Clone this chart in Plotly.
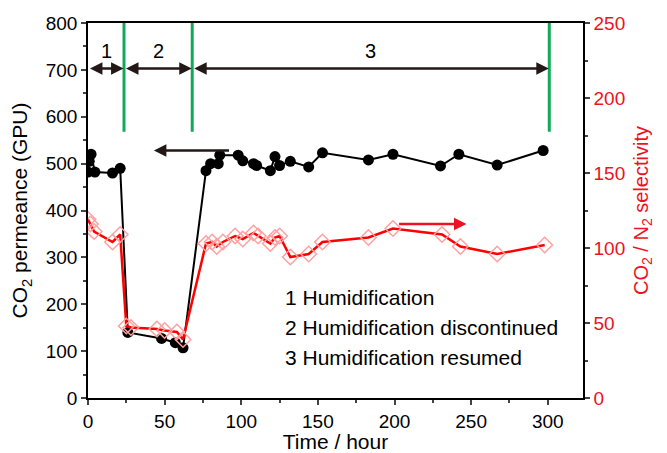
import plotly.graph_objects as go

# Data
perm_time = [0, 0.8, 2, 4.5, 16, 21, 26, 48, 57, 62, 77, 80, 85, 86, 98, 101, 108, 110,
             119, 122, 125, 132, 144, 153, 183, 199, 230, 242, 267, 297]
perm_vals = [482, 505, 520, 482, 480, 490, 140, 127, 118, 107, 485, 500, 500, 518, 518, 506,
             500, 496, 485, 515, 496, 505, 493, 523, 508, 520, 495, 520, 497, 528]

sel_time = [0, 1.5, 4, 16, 21, 25, 28, 45, 50, 58, 62, 77, 81, 84, 88, 96, 101, 108, 111,
            119, 122, 125, 132, 144, 153, 183, 199, 231, 243, 267, 298]
sel_vals = [119, 116, 111, 104, 109, 48, 47, 46, 45, 44, 39, 103, 104, 101, 104, 108, 106,
            110, 108, 103, 107, 108, 94, 96, 104, 107, 113, 109, 101, 96, 102]

phase_bounds = [0, 23.5, 68, 301]
phase_labels = ["1", "2", "3"]
legend_lines = ["1 Humidification", "2 Humidification discontinued", "3 Humidification resumed"]

FONT = "Liberation Sans, Arial, sans-serif"

fig = go.Figure()
fig.add_trace(go.Scatter(
    x=perm_time, y=perm_vals, mode="lines+markers",
    line=dict(color="black", width=2),
    marker=dict(symbol="circle", size=11, color="black"),
    yaxis="y", showlegend=False))
fig.add_trace(go.Scatter(
    x=sel_time, y=sel_vals, mode="lines+markers",
    line=dict(color="#ff0000", width=2.5),
    marker=dict(symbol="diamond-open", size=12, color="#ffa0a0", line=dict(width=1.5)),
    yaxis="y2", showlegend=False))

shapes = []
for b in phase_bounds[1:]:
    shapes.append(dict(type="line", xref="x", yref="y", x0=b, x1=b, y0=568, y1=800,
                       line=dict(color="#12a85a", width=3)))

annotations = []
for i in range(3):
    x0, x1 = phase_bounds[i], phase_bounds[i + 1]
    annotations.append(dict(x=x1 - 0.3, y=703, ax=x0 + 0.3, ay=703, xref="x", yref="y",
                            axref="x", ayref="y", text="", showarrow=True,
                            arrowhead=2, arrowsize=1, arrowwidth=2.5, arrowside="end+start",
                            arrowcolor="#231815"))
    annotations.append(dict(x=(x0 + x1) / 2, y=740, xref="x", yref="y", text=phase_labels[i],
                            showarrow=False, font=dict(size=20, color="black", family=FONT)))

# direction arrows
annotations.append(dict(x=43, y=528, ax=93, ay=528, xref="x", yref="y", axref="x", ayref="y",
                        text="", showarrow=True, arrowhead=2, arrowsize=1, arrowwidth=2.5,
                        arrowcolor="#231815"))
annotations.append(dict(x=247, y=371, ax=202, ay=371, xref="x", yref="y", axref="x", ayref="y",
                        text="", showarrow=True, arrowhead=2, arrowsize=1, arrowwidth=2.5,
                        arrowcolor="#ee1122"))

for i, t in enumerate(legend_lines):
    annotations.append(dict(x=127, y=215 - i * 64, xref="x", yref="y", text=t, xanchor="left",
                            showarrow=False, font=dict(size=21, color="black", family=FONT)))

# page has an 8px body margin: figure is sized/margined to compensate
fig.update_layout(
    width=659, height=445,
    margin=dict(l=80, r=84, t=15, b=55),
    plot_bgcolor="white", paper_bgcolor="white",
    font=dict(family=FONT, size=19, color="black"),
    shapes=shapes, annotations=annotations,
    xaxis=dict(range=[0, 323], tickvals=[0, 50, 100, 150, 200, 250, 300], automargin=False,
               ticks="outside", ticklen=5, tickwidth=1.5, showline=True, linecolor="black",
               linewidth=1.5, mirror=True, showgrid=False, zeroline=False,
               minor=dict(dtick=25, ticks="outside", ticklen=3),
               title=dict(text="Time / hour", font=dict(size=21), standoff=3)),
    yaxis=dict(range=[0, 800], dtick=100, ticks="outside", ticklen=5, tickwidth=1.5,
               automargin=False,
               showline=True, linecolor="black", linewidth=1.5, showgrid=False, zeroline=False,
               minor=dict(dtick=50, ticks="outside", ticklen=3),
               title=dict(text="CO<sub>2</sub> permeance (GPU)", font=dict(size=21), standoff=12)),
    yaxis2=dict(range=[0, 250], dtick=50, overlaying="y", side="right", ticks="outside",
                automargin=False,
                ticklen=5, tickwidth=1.5, showline=True, linecolor="black", linewidth=1.5,
                showgrid=False, zeroline=False, tickfont=dict(color="#ee1122"),
                minor=dict(dtick=25, ticks="outside", ticklen=3),
                title=dict(text="CO<sub>2</sub> / N<sub>2</sub> selectivity",
                           font=dict(size=20, color="#ee1122"), standoff=10)),
)

fig.write_html("out.html")
